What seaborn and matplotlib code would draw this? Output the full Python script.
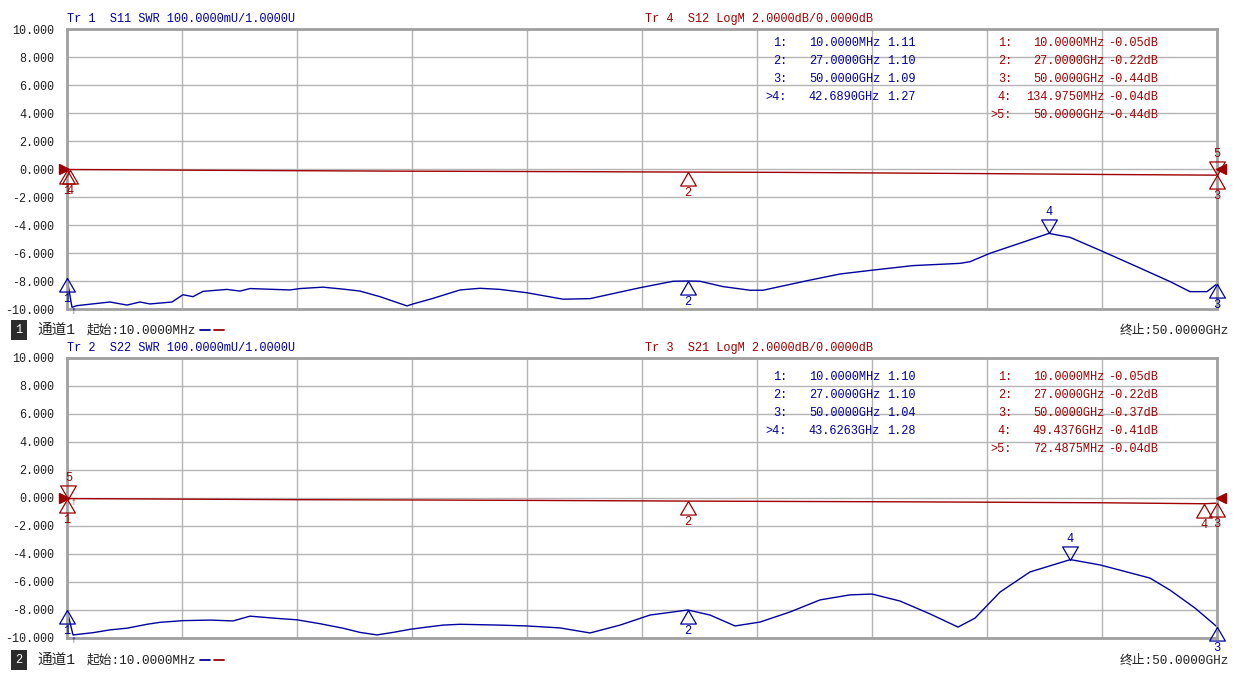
import numpy as np
import matplotlib.pyplot as plt
import seaborn as sns
from matplotlib.path import Path
from matplotlib.markers import MarkerStyle
from matplotlib.lines import Line2D

# ---------------- data ----------------
# frequencies in GHz
freq_s11 = [0.01, 0.227, 0.445, 1.879, 2.618, 3.183, 3.618, 4.574, 5.052, 5.487, 5.922, 6.965,
            7.530, 7.965, 9.704, 10.139, 11.138, 12.008, 12.747, 13.616, 14.790, 15.051, 15.920,
            17.094, 17.963, 18.833, 20.007, 21.572, 22.746, 24.919, 26.354, 27.0, 27.527, 28.527,
            29.701, 30.266, 32.179, 33.613, 35.048, 36.787, 38.829, 39.264, 40.133, 41.437,
            42.689, 43.610, 45.045, 46.523, 47.957, 48.827, 49.566, 50.0]
swr_s11 = [1.11, 1.006, 1.012, 1.025, 1.014, 1.025, 1.018, 1.025, 1.051, 1.044, 1.063, 1.070,
           1.064, 1.073, 1.068, 1.073, 1.078, 1.071, 1.064, 1.044, 1.011, 1.018, 1.038,
           1.068, 1.074, 1.070, 1.058, 1.035, 1.037, 1.076, 1.099, 1.10, 1.099, 1.080,
           1.067, 1.067, 1.101, 1.125, 1.139, 1.155, 1.163, 1.169, 1.199, 1.235,
           1.27, 1.256, 1.205, 1.151, 1.098, 1.062, 1.062, 1.09]

freq_s12 = [0.01, 0.135, 3.0, 6.0, 10.0, 14.0, 18.0, 22.0, 27.0, 31.0, 35.0, 40.0, 45.0, 49.0, 50.0]
db_s12 = [-0.05, -0.04, -0.06, -0.09, -0.12, -0.15, -0.17, -0.19, -0.22, -0.24, -0.28, -0.33,
          -0.39, -0.43, -0.44]

freq_s22 = [0.01, 0.271, 1.140, 1.879, 2.618, 3.488, 4.053, 5.052, 6.226, 7.226, 7.965, 9.139,
            10.008, 11.008, 12.008, 12.747, 13.486, 14.181, 14.920, 15.659, 16.355, 17.094,
            18.833, 20.007, 21.441, 22.746, 24.050, 25.354, 27.0, 27.962, 29.049, 30.136,
            31.440, 32.744, 34.048, 35.004, 36.221, 37.525, 38.742, 39.481, 40.568, 41.872,
            43.6263, 44.915, 47.088, 47.957, 49.044, 50.0]
swr_s22 = [1.10, 1.011, 1.019, 1.029, 1.035, 1.049, 1.056, 1.062, 1.064, 1.061, 1.078, 1.070,
           1.065, 1.051, 1.035, 1.020, 1.011, 1.020, 1.031, 1.039, 1.046, 1.049,
           1.046, 1.043, 1.036, 1.018, 1.046, 1.082, 1.10, 1.082, 1.043, 1.057,
           1.093, 1.136, 1.154, 1.157, 1.132, 1.086, 1.039, 1.071, 1.164, 1.236,
           1.28, 1.261, 1.214, 1.171, 1.107, 1.04]

freq_s21 = [0.01, 0.0725, 5.0, 10.0, 15.0, 20.0, 27.0, 32.0, 36.0, 40.0, 45.0, 49.4376, 50.0]
db_s21 = [-0.05, -0.04, -0.08, -0.12, -0.14, -0.17, -0.22, -0.25, -0.27, -0.30, -0.34, -0.41, -0.37]

# markers (GHz, value); last one listed in each trace is the active marker
mk_s11_freq = [0.01, 27.0, 50.0, 42.689]
mk_s11_val = [1.11, 1.10, 1.09, 1.27]
mk_s12_freq = [0.01, 27.0, 50.0, 0.134975, 50.0]
mk_s12_val = [-0.05, -0.22, -0.44, -0.04, -0.44]
mk_s22_freq = [0.01, 27.0, 50.0, 43.6263]
mk_s22_val = [1.10, 1.10, 1.04, 1.28]
mk_s21_freq = [0.01, 27.0, 50.0, 49.4376, 0.0724875]
mk_s21_val = [-0.05, -0.22, -0.37, -0.41, -0.04]

y_ticks = np.arange(-10, 11, 2)
f_start, f_stop = 0.01, 50.0

BLUE = '#0000a0'
RED = '#a00000'
W, H = 1238, 676

sns.set_style("white")
plt.rcParams['font.family'] = ['Liberation Mono', 'Noto Sans CJK SC', 'DejaVu Sans']


def swr_to_disp(s):
    # SWR 100 mU/div, ref 1.0 U at the bottom line (-10 on the dB grid)
    return [-10 + (v - 1.0) / 0.1 * 2 for v in s]


def fmt_freq(f):
    return f"{f * 1000:.4f}MHz" if f < 1 else f"{f:.4f}GHz"


TRI_UP = MarkerStyle(Path([(0, 0), (-0.58, -1), (0.58, -1), (0, 0)]))
TRI_DN = MarkerStyle(Path([(0, 0), (-0.58, 1), (0.58, 1), (0, 0)]))


def draw_markers(ax, freqs, vals, color):
    n = len(freqs)
    for i, (f, v) in enumerate(zip(freqs, vals)):
        active = (i == n - 1)
        ax.plot([f], [v], marker=TRI_DN if active else TRI_UP, ms=19.5, mfc='none',
                mec=color, mew=0.9, ls='none', clip_on=False, zorder=5)
        ax.annotate(str(i + 1), (f, v), xytext=(0, 21 if active else -21),
                    textcoords='offset pixels', ha='center', va='center',
                    color=color, fontsize=8.6, annotation_clip=False)


def fig_text(fig, x, y, s, **kw):
    fig.text(x / W, 1 - y / H, s, va='center', **kw)


def marker_table(fig, y0, freqs, vals, color, x_lab, x_freq, x_val, unit):
    n = len(freqs)
    for i, (f, v) in enumerate(zip(freqs, vals)):
        y = y0 + i * 18
        lab = (">" if i == n - 1 else "") + f"{i + 1}:"
        fig_text(fig, x_lab, y, lab, ha='right', color=color, fontsize=8.6)
        fig_text(fig, x_freq, y, fmt_freq(f), ha='right', color=color, fontsize=8.6)
        fig_text(fig, x_val, y, f"{v:.2f}{unit}", ha='left', color=color, fontsize=8.6)


fig = plt.figure(figsize=(W / 100, H / 100), dpi=100)
ax1 = fig.add_axes([67 / W, 1 - 309 / H, 1150 / W, 280 / H])
ax2 = fig.add_axes([67 / W, 1 - 638 / H, 1150 / W, 280 / H])

panels = [
    (ax1, freq_s11, swr_s11, freq_s12, db_s12, mk_s11_freq, mk_s11_val, mk_s12_freq, mk_s12_val),
    (ax2, freq_s22, swr_s22, freq_s21, db_s21, mk_s22_freq, mk_s22_val, mk_s21_freq, mk_s21_val),
]

for ax, fb, sb, fr, dr, mbf, mbv, mrf, mrv in panels:
    sns.lineplot(x=fr, y=dr, ax=ax, color=RED, linewidth=1.0, estimator=None, sort=False)
    sns.lineplot(x=fb, y=swr_to_disp(sb), ax=ax, color=BLUE, linewidth=1.0,
                 estimator=None, sort=False)
    ax.set_xlim(f_start, f_stop)
    ax.set_ylim(-10, 10)
    ax.set_yticks(y_ticks)
    ax.set_yticklabels([f"{t:.3f}" for t in y_ticks], fontsize=8.5, color='#202020')
    ax.set_xticks(np.linspace(f_start, f_stop, 11))
    ax.set_xticklabels([])
    ax.tick_params(length=0, pad=9)
    ax.grid(True, color='#b4b4b4', lw=1.0)
    ax.set_xlabel('')
    ax.set_ylabel('')
    for sp in ax.spines.values():
        sp.set_color('#a0a0a0')
        sp.set_linewidth(2.0)

    draw_markers(ax, mbf, swr_to_disp(mbv), BLUE)
    draw_markers(ax, mrf, mrv, RED)

    # reference position arrows of the LogM trace
    tr = ax.get_yaxis_transform()
    ax.plot([-0.003], [0], marker='>', ms=7, color=RED, transform=tr, clip_on=False, zorder=6)
    ax.plot([1.0035], [0], marker='<', ms=7, color=RED, transform=tr, clip_on=False, zorder=6)
    # stimulus arrow
    ax.annotate('↑', (0.005, -10), xycoords=tr, xytext=(0, -2), textcoords='offset pixels',
                ha='center', va='center', color=BLUE, fontsize=7, annotation_clip=False)

ax2.annotate('↑', (0.005, 0), xycoords=ax2.get_yaxis_transform(), xytext=(0, -4),
             textcoords='offset pixels', ha='center', va='center', color=RED, fontsize=7,
             annotation_clip=False)

# headers
fig_text(fig, 67, 19, "Tr 1  S11 SWR 100.0000mU/1.0000U", color=BLUE, fontsize=8.6)
fig_text(fig, 645, 19, "Tr 4  S12 LogM 2.0000dB/0.0000dB", color=RED, fontsize=8.6)
fig_text(fig, 67, 348, "Tr 2  S22 SWR 100.0000mU/1.0000U", color=BLUE, fontsize=8.6)
fig_text(fig, 645, 348, "Tr 3  S21 LogM 2.0000dB/0.0000dB", color=RED, fontsize=8.6)

# marker readouts
marker_table(fig, 43, mk_s11_freq, mk_s11_val, BLUE, 787, 880, 887, "")
marker_table(fig, 43, mk_s12_freq, mk_s12_val, RED, 1012, 1104, 1108, "dB")
marker_table(fig, 377, mk_s22_freq, mk_s22_val, BLUE, 787, 880, 887, "")
marker_table(fig, 377, mk_s21_freq, mk_s21_val, RED, 1012, 1104, 1108, "dB")

# channel status lines
for y, num in [(330, "1"), (660, "2")]:
    fig_text(fig, 19, y, num, ha='center', color='white', fontsize=8.6,
             bbox=dict(boxstyle='square,pad=0.35', fc='#2b2b2b', ec='none'))
    fig_text(fig, 37, y, "通道1", color='#202020', fontsize=10.5)
    fig_text(fig, 87, y, "起始:10.0000MHz", color='#202020', fontsize=9.2)
    yf = 1 - y / H
    fig.add_artist(Line2D([200 / W, 210 / W], [yf, yf], color=BLUE, lw=1.3))
    fig.add_artist(Line2D([214 / W, 224 / W], [yf, yf], color=RED, lw=1.3))
    fig_text(fig, 1229, y, "终止:50.0000GHz", ha='right', color='#202020', fontsize=9.2)

fig.savefig('out.png', dpi=100)
